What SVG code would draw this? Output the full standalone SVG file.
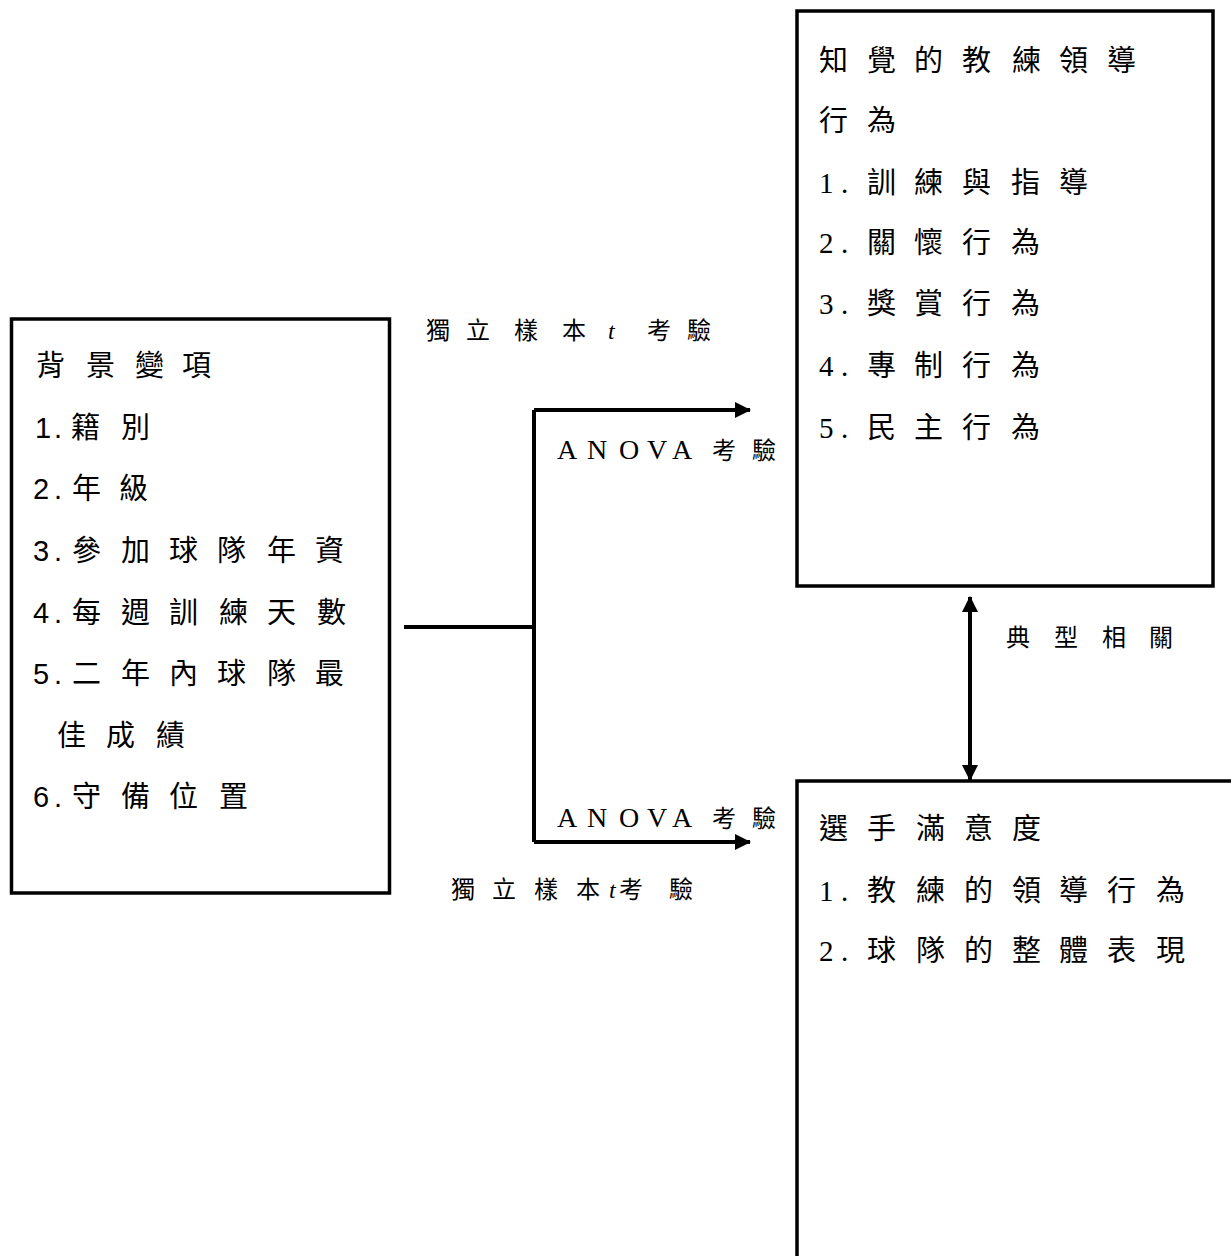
<svg xmlns="http://www.w3.org/2000/svg" width="1231" height="1256" viewBox="0 0 1231 1256">
<style>
.box{fill:#fff;stroke:#000;stroke-width:3.5}
.ln{fill:none;stroke:#000;stroke-width:4}
.ls{font-family:"Liberation Sans","Noto Sans CJK TC",sans-serif;font-size:29px;fill:#000}
.rs{font-family:"Liberation Serif","Noto Sans CJK TC",serif;font-size:29px;fill:#000}
.lab{font-family:"Liberation Serif","Noto Sans CJK TC",serif;font-size:24px;fill:#000}
.ano{font-family:"Liberation Serif","Noto Sans CJK TC",serif;font-size:28px;fill:#000}
</style>
<defs>
<marker id="ah" viewBox="0 0 16 16" refX="15" refY="8" markerWidth="16" markerHeight="16" markerUnits="userSpaceOnUse" orient="auto-start-reverse">
<path d="M0,0 L16,8 L0,16 Z" fill="#000"/>
</marker>
</defs>
<rect width="1231" height="1256" fill="#fff"/>
<g id="background">
<rect class="box" x="11.5" y="319" width="378" height="574"/>
<text class="ls" x="36 86 135 182" y="376">背景變項</text>
<text class="ls" x="35 54 71 121" y="438">1.籍別</text>
<text class="ls" x="33 54 72 119" y="499">2.年級</text>
<text class="ls" x="33 54 72 121 169 217 267 315" y="561">3.參加球隊年資</text>
<text class="ls" x="33 54 72 121 169 219 267 317" y="623">4.每週訓練天數</text>
<text class="ls" x="33 54 72 121 169 217 267 315" y="684">5.二年內球隊最</text>
<text class="ls" x="57 106 156" y="746">佳成績</text>
<text class="ls" x="33 54 72 121 169 219" y="807">6.守備位置</text>
</g>
<g id="leadership">
<rect class="box" x="797" y="11" width="416" height="575"/>
<text class="rs" x="819 867 914 962 1012 1059 1107" y="71">知覺的教練領導</text>
<text class="rs" x="819 867" y="131">行為</text>
<text class="rs" x="819 841 867 914 962 1011 1059" y="193">1.訓練與指導</text>
<text class="rs" x="819 841 867 914 962 1011" y="253">2.關懷行為</text>
<text class="rs" x="819 841 867 914 962 1011" y="314">3.獎賞行為</text>
<text class="rs" x="819 841 867 914 962 1011" y="376">4.專制行為</text>
<text class="rs" x="819 841 867 914 962 1011" y="438">5.民主行為</text>
</g>
<g id="satisfaction">
<rect class="box" x="797" y="781" width="500" height="600"/>
<text class="rs" x="819 867 916 964 1012" y="839">選手滿意度</text>
<text class="rs" x="819 841 867 916 964 1012 1059 1107 1156" y="901">1.教練的領導行為</text>
<text class="rs" x="819 841 867 916 964 1012 1059 1107 1156" y="961">2.球隊的整體表現</text>
</g>
<g id="connectors">
<path class="ln" d="M404,627 H534"/>
<path class="ln" d="M534,410 V842"/>
<path class="ln" d="M534,410 H750" marker-end="url(#ah)"/>
<path class="ln" d="M534,842 H750" marker-end="url(#ah)"/>
<path class="ln" d="M970,597 V780" marker-start="url(#ah)" marker-end="url(#ah)"/>
</g>
<g id="labels">
<text class="lab" x="426 466 514 562" y="339">獨立樣本</text>
<text class="lab" x="608" y="339" font-style="italic">t</text>
<text class="lab" x="647 687" y="339">考驗</text>
<text class="ano" x="557 587 619 647 672" y="459">ANOVA</text>
<text class="lab" x="712 752" y="459">考驗</text>
<text class="ano" x="557 587 619 647 672" y="827">ANOVA</text>
<text class="lab" x="712 752" y="827">考驗</text>
<text class="lab" x="451 492 534 576" y="898">獨立樣本</text>
<text class="lab" x="609" y="898" font-style="italic">t</text>
<text class="lab" x="619 669" y="898">考驗</text>
<text class="lab" x="1006 1054 1102 1149" y="646">典型相關</text>
</g>
</svg>
